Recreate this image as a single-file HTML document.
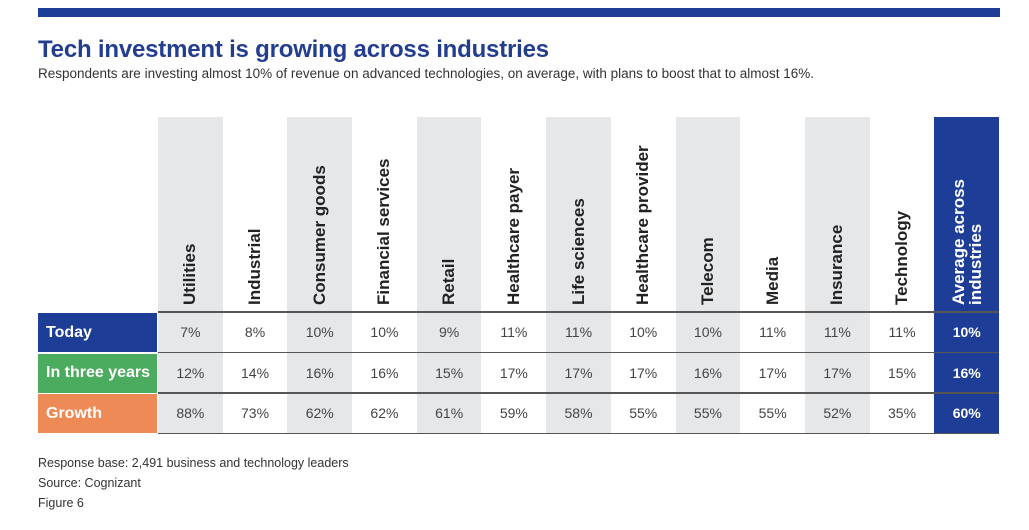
<!DOCTYPE html>
<html><head><meta charset="utf-8"><style>
body{margin:0;width:1029px;height:530px;background:#fff;font-family:"Liberation Sans",sans-serif;position:relative;overflow:hidden}
.abs{position:absolute}
.title{left:38px;top:36px;font-size:24px;font-weight:bold;color:#233d8f;letter-spacing:-0.2px}
.sub{left:38px;top:66px;font-size:13.5px;color:#333}
.foot{left:38px;font-size:12.5px;color:#333}
.hdr{font-size:17px;font-weight:bold;color:#222;white-space:nowrap;transform-origin:0 0;transform:rotate(-90deg);line-height:17px}
.val{font-size:14px;color:#444;text-align:center;width:64px}
.lbl{left:38px;width:119px;color:#fff;font-weight:bold;font-size:16px;box-sizing:border-box;padding-left:8px;display:flex;align-items:center}
</style></head><body>
<div class="abs" style="left:38px;top:8px;width:962px;height:9px;background:#1e3d97"></div>
<div class="abs title">Tech investment is growing across industries</div>
<div class="abs sub">Respondents are investing almost 10% of revenue on advanced technologies, on average, with plans to boost that to almost 16%.</div>
<div id="tbl"></div>
<div class="abs foot" style="top:456px">Response base: 2,491 business and technology leaders</div>
<div class="abs foot" style="top:476px">Source: Cognizant</div>
<div class="abs foot" style="top:496px">Figure 6</div>
<script>
const industries=["Utilities","Industrial","Consumer goods","Financial services","Retail","Healthcare payer","Life sciences","Healthcare provider","Telecom","Media","Insurance","Technology"];
const todayVals=["7%","8%","10%","10%","9%","11%","11%","10%","10%","11%","11%","11%"];
const threeYearVals=["12%","14%","16%","16%","15%","17%","17%","17%","16%","17%","17%","15%"];
const growthVals=["88%","73%","62%","62%","61%","59%","58%","55%","55%","55%","52%","35%"];
const avgVals=["10%","16%","60%"];
const rowLabels=["Today","In three years","Growth"];
const rowColors=["#1e3d97","#4bab5e","#ee8a56"];
const rows=[todayVals,threeYearVals,growthVals];
const T=document.getElementById('tbl');
const x0=158,cw=64.7,yTop=117,r0=312,rh=40.5;
function add(html,cls,style,name){const d=document.createElement('div');d.className='abs '+(cls||'');d.style.cssText=style;d.innerHTML=html;


T.appendChild(d);return d;}
industries.forEach((n,i)=>{const x=x0+i*cw;
 if(i%2===0) add('','',`left:${x}px;top:${yTop}px;width:${cw}px;height:${r0+3*rh-yTop}px;background:#e6e7e9`,'column-bg');
 add(n,'hdr',`left:${x+cw/2-9}px;top:305px`,'column-header');
 rows.forEach((r,j)=>add(r[i],'val',`left:${x}px;top:${r0+j*rh+12}px;width:${cw}px`,'cell-value'));
});
const ax=x0+12*cw;
add('','',`left:${ax}px;top:${yTop}px;width:${cw}px;height:${r0+3*rh-yTop}px;background:#1e3d97`,'average-column-bg');
add('Average across<br>industries','hdr',`left:${ax+cw/2-17}px;top:305px;color:#fff`,'average-column-header');
avgVals.forEach((v,j)=>add(v,'val',`left:${ax}px;top:${r0+j*rh+12}px;width:${cw}px;color:#fff;font-weight:bold`,'average-value'));
rowLabels.forEach((l,j)=>add(l,'lbl',`top:${r0+j*rh+1}px;height:${rh-1.5}px;background:${rowColors[j]}`,'row-label'));
for(let j=0;j<=3;j++) add('','',`left:${x0}px;top:${r0+j*rh-1}px;width:${ax+cw-x0}px;height:1.5px;background:#555`,'row-divider');
</script>
</body></html>
